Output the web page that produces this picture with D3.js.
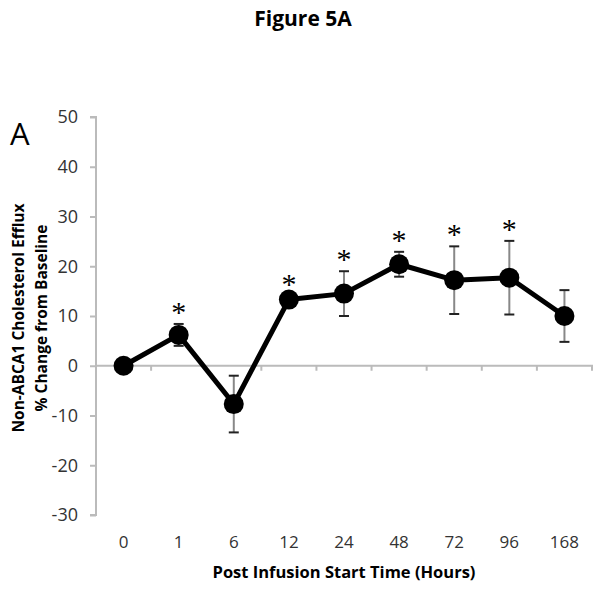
<!DOCTYPE html>
<html><head><meta charset="utf-8">
<script src="https://cdn.jsdelivr.net/npm/d3@7"></script>
<style>body{margin:0;background:#fff}svg{display:block}text{font-family:"Open Sans",sans-serif}</style>
</head><body>
<script>
const categories = ["0","1","6","12","24","48","72","96","168"];
const values = [0, 6.2, -7.7, 13.3, 14.5, 20.4, 17.2, 17.7, 10.0];
const errors = [0, 2.2, 5.7, 0.8, 4.5, 2.5, 6.8, 7.4, 5.2];
const significant = [false, true, false, true, true, true, true, true, false];
const yTicks = [-30,-20,-10,0,10,20,30,40,50];

(function(){
const W = 602, H = 592;
const svg = d3.select("body").append("svg").attr("width", W).attr("height", H);
const mLeft = 96, mRight = 592, mTop = 117, mBottom = 515;
const x = d3.scaleBand().domain(categories).range([mLeft, mRight]);
const y = d3.scaleLinear().domain([-30, 50]).range([mBottom, mTop]);

svg.append("text").attr("x", 303).attr("y", 26).attr("text-anchor", "middle")
  .attr("font-weight", "bold").attr("font-size", 21).text("Figure 5A");
svg.append("text").attr("x", 10).attr("y", 145).attr("font-size", 31).text("A");

// y axis
const yAx = svg.append("g").attr("transform", `translate(${mLeft},0)`)
  .call(d3.axisLeft(y).tickValues(yTicks).tickSize(6).tickPadding(12).tickFormat(d => String(d)));
yAx.selectAll("line, path").attr("stroke", "#bbb").attr("stroke-width", 2);
yAx.select("path").attr("d", `M-6,${mTop}H0V${mBottom}H-6`);
yAx.selectAll("text").attr("font-size", 18).attr("fill", "#333").style("font-family", "'Open Sans',sans-serif");

// x axis at y=0
const xAx = svg.append("g").attr("transform", `translate(0,${y(0)})`)
  .call(d3.axisBottom(x).tickSize(0).tickFormat(""));
xAx.select("path").attr("stroke", "#bbb").attr("stroke-width", 2).attr("d", `M${mLeft},0H${mRight}V5`);
const tickPos = categories.slice(1).map(c => x(c));
xAx.selectAll(".btick").data(tickPos).enter().append("line")
  .attr("x1", d => d).attr("x2", d => d).attr("y1", 0).attr("y2", 5)
  .attr("stroke", "#bbb").attr("stroke-width", 2);

// x labels
svg.append("g").selectAll("text").data(categories).enter().append("text")
  .attr("x", d => x(d) + x.bandwidth()/2).attr("y", 548).attr("text-anchor", "middle")
  .attr("font-size", 17).attr("fill", "#333").text(d => d);

svg.append("text").attr("x", 344).attr("y", 578).attr("text-anchor", "middle")
  .attr("font-weight", "bold").attr("font-size", 16.5).text("Post Infusion Start Time (Hours)");

const yt = svg.append("text").attr("transform", "translate(0,318) rotate(-90)")
  .attr("text-anchor", "middle").attr("font-weight", "bold").attr("font-size", 15.5);
yt.append("tspan").attr("x", 0).attr("y", 24).text("Non-ABCA1 Cholesterol Efflux");
yt.append("tspan").attr("x", 0).attr("y", 47).text("% Change from Baseline");

const cx = i => x(categories[i]) + x.bandwidth()/2;
const data = values.map((v, i) => ({i, v, e: errors[i], s: significant[i]}));

// error bars
const eb = svg.append("g");
data.filter(d => d.e > 0).forEach(d => {
  eb.append("line").attr("x1", cx(d.i)).attr("x2", cx(d.i)).attr("y1", y(d.v + d.e)).attr("y2", y(d.v - d.e))
    .attr("stroke", "#888").attr("stroke-width", 2);
  [d.v + d.e, d.v - d.e].forEach(t => eb.append("line").attr("x1", cx(d.i) - 5).attr("x2", cx(d.i) + 5)
    .attr("y1", y(t)).attr("y2", y(t)).attr("stroke", "#222").attr("stroke-width", 2));
});

svg.append("path").datum(data)
  .attr("d", d3.line().x(d => cx(d.i)).y(d => y(d.v)))
  .attr("fill", "none").attr("stroke", "#000").attr("stroke-width", 5).attr("stroke-linejoin", "round");

svg.append("g").selectAll("circle").data(data).enter().append("circle")
  .attr("cx", d => cx(d.i)).attr("cy", d => y(d.v)).attr("r", 10).attr("fill", "#000");

svg.append("g").selectAll("text").data(data.filter(d => d.s)).enter().append("text")
  .attr("x", d => cx(d.i)).attr("y", d => y(d.v + d.e) - 2).attr("text-anchor", "middle")
  .attr("font-size", 30).style("font-family", "'Liberation Serif',serif").text("*");
})();
</script>
</body></html>
